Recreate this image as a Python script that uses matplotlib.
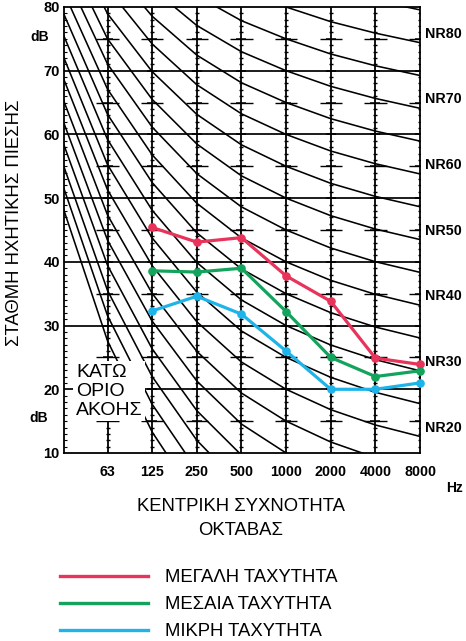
import numpy as np
import matplotlib
matplotlib.use('Agg')
import matplotlib.pyplot as plt
from matplotlib.lines import Line2D
from matplotlib.ticker import MultipleLocator

plt.rcParams['font.family'] = ['Liberation Sans', 'DejaVu Sans']

# ---- data ----
bands = ['63', '125', '250', '500', '1000', '2000', '4000', '8000']
# NR curve coefficients (L = a + b*NR) for 31.5, 63, ..., 8000 Hz
nr_a = [55.4, 35.5, 22.0, 12.0, 4.8, 0.0, -3.5, -6.1, -8.0]
nr_b = [0.681, 0.790, 0.870, 0.930, 0.974, 1.000, 1.015, 1.025, 1.030]
nr_levels = list(range(-10, 135, 5))
nr_labels = [20, 30, 40, 50, 60, 70, 80]

series_bands = ['125', '250', '500', '1000', '2000', '4000', '8000']
high = [45.4, 43.1, 43.8, 37.8, 33.8, 24.9, 23.9]
medium = [38.6, 38.4, 39.0, 32.2, 25.0, 22.0, 22.9]
low = [32.3, 34.6, 31.8, 26.0, 20.0, 20.0, 21.0]
series_names = ['ΜΕΓΑΛΗ ΤΑΧΥΤΗΤΑ', 'ΜΕΣΑΙΑ ΤΑΧΥΤΗΤΑ', 'ΜΙΚΡΗ ΤΑΧΥΤΗΤΑ']
colors = ['#E8335A', '#14A35C', '#1EB4EA']

# ---- figure ----
fig = plt.figure(figsize=(4.66, 6.41), dpi=100)
ax = fig.add_axes([64 / 466, 1 - 453 / 641, 356 / 466, 446 / 641])
ax.set_xlim(-0.975, 7.0)
ax.set_ylim(10, 80)

band_x = np.arange(len(bands))
curve_x = np.arange(-1, len(bands))  # 31.5 Hz .. 8000 Hz
a = np.array(nr_a)
b = np.array(nr_b)

# NR curves
for n in nr_levels:
    ax.plot(curve_x, a + b * n, color='black', lw=1.15, zorder=2)

# horizontal grid every 10 dB
for v in range(20, 80, 10):
    ax.axhline(v, color='black', lw=1.25, zorder=2)

# vertical octave columns with ruler ticks
minor_lv = [v for v in range(11, 80) if v % 5 != 0]
major_lv = [v for v in range(15, 80, 5)]
for i in band_x:
    if i < len(bands) - 1:
        ax.axvline(i, color='black', lw=1.3, zorder=2)
    ax.plot([i] * len(minor_lv), minor_lv, ls='none', marker='_', ms=3.4,
            mew=1.0, color='black', zorder=2)
    ax.plot([i] * len(major_lv), major_lv, ls='none', marker='_', ms=6.5,
            mew=1.1, color='black', zorder=2)
    ax.hlines(list(range(15, 80, 10)), i - 0.25, i + 0.25, color='black',
              lw=1.0, zorder=2)

# data series
for vals, c in zip([high, medium, low], colors):
    xs = [bands.index(bd) for bd in series_bands]
    ax.plot(xs, vals, color=c, lw=2.3, marker='o', ms=5.2, zorder=5,
            clip_on=False)

for s in ax.spines.values():
    s.set_linewidth(1.3)

ax.set_yticks(range(10, 81, 10))
ax.set_yticklabels([str(v) for v in range(10, 81, 10)], fontweight='bold',
                   fontsize=10.5)
ax.yaxis.set_minor_locator(MultipleLocator(1))
ax.tick_params(axis='y', which='major', length=0, pad=3)
ax.tick_params(axis='y', which='minor', direction='in', length=2.5, width=0.8)
ax.set_xticks(band_x)
ax.set_xticklabels(bands, fontweight='bold', fontsize=10.3)
ax.tick_params(axis='x', length=0, pad=9)

# NR labels on the right
for n in nr_labels:
    ax.text(1.014, nr_a[-1] + nr_b[-1] * n + 1.4, f'NR{n}',
            transform=ax.get_yaxis_transform(), ha='left', va='center',
            fontweight='bold', fontsize=10.3)

# dB labels
ax.text(-0.067, 75.3, 'dB', transform=ax.get_yaxis_transform(), ha='center',
        va='center', fontweight='bold', fontsize=10)
ax.text(-0.072, 15.5, 'dB', transform=ax.get_yaxis_transform(), ha='center',
        va='center', fontweight='bold', fontsize=10)

# axis titles
ax.text(-0.138, 0.516, 'ΣΤΑΘΜΗ ΗΧΗΤΙΚΗΣ ΠΙΕΣΗΣ', transform=ax.transAxes,
        rotation=90, ha='center', va='center', fontsize=13.3)
ax.text(1.098, -0.078, 'Hz', transform=ax.transAxes, ha='center',
        va='center', fontweight='bold', fontsize=10)
ax.text(0.497, -0.121, 'ΚΕΝΤΡΙΚΗ ΣΥΧΝΟΤΗΤΑ', transform=ax.transAxes,
        ha='center', va='center', fontsize=13.3)
ax.text(0.497, -0.173, 'ΟΚΤΑΒΑΣ', transform=ax.transAxes,
        ha='center', va='center', fontsize=13.3)

# lower threshold note
ax.text(0.034, 19.7, 'ΚΑΤΩ\nΟΡΙΟ\nΑΚΟΗΣ', transform=ax.get_yaxis_transform(),
        ha='left', va='center', fontsize=14, linespacing=1.15, zorder=4,
        bbox=dict(facecolor='white', edgecolor='none', pad=2))

# legend
handles = [Line2D([], [], color=c, lw=2.4) for c in colors]
fig.legend(handles, series_names, loc='upper left',
           bbox_to_anchor=(60 / 466, 1 - 569 / 641), frameon=False,
           fontsize=13.3, handlelength=4.75, handletextpad=0.92,
           labelspacing=0.55, borderpad=0, borderaxespad=0)

fig.savefig('out.png', dpi=100)
